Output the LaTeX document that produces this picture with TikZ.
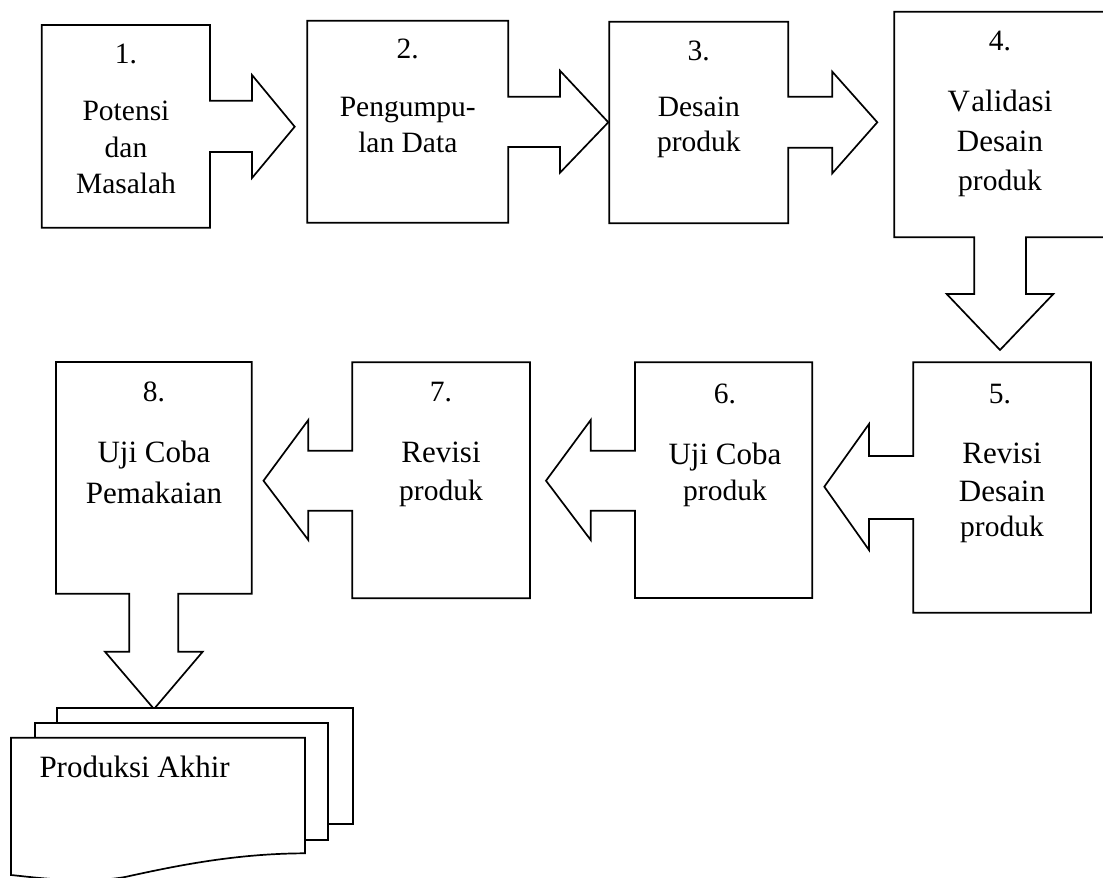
\documentclass[tikz,border=0pt]{standalone}
\usepackage{fontspec}
\setmainfont{Liberation Serif}
\begin{document}
\begin{tikzpicture}[x=1pt,y=-1pt,
  blk/.style={draw=black, line width=1.7pt, line join=miter, fill=white},
  lbl/.style={anchor=base, inner sep=0pt, font=\fontsize{29.5}{30}\selectfont},
  lblb/.style={anchor=base, inner sep=0pt, font=\fontsize{31}{32}\selectfont}]
\useasboundingbox (0,0) rectangle (1103,878);
\clip (0,0) rectangle (1103,878);

% Box 1 with right arrow
\draw[blk] (41.7,25) -- (210,25) -- (210,100.7) -- (252,100.7) -- (252,75) -- (294.7,126.7)
  -- (252,178) -- (252,152) -- (210,152) -- (210,227.7) -- (41.7,227.7) -- cycle;
% Box 2
\draw[blk] (307.3,20.7) -- (508.3,20.7) -- (508.3,96.7) -- (560,96.7) -- (560,70.7) -- (608.3,122.3)
  -- (560,172.7) -- (560,147) -- (508.3,147) -- (508.3,222.7) -- (307.3,222.7) -- cycle;
% Box 3
\draw[blk] (609.3,21.7) -- (788.3,21.7) -- (788.3,96.7) -- (832.3,96.7) -- (832.3,71.7) -- (877.3,122.3)
  -- (832.3,173.3) -- (832.3,147.7) -- (788.3,147.7) -- (788.3,223.3) -- (609.3,223.3) -- cycle;
% Box 4 with down arrow
\draw[blk] (894.3,11.7) -- (1108,11.7) -- (1108,237.3) -- (1026,237.3) -- (1026,294) -- (1053.3,294)
  -- (1000,350) -- (946.7,294) -- (974.3,294) -- (974.3,237.3) -- (894.3,237.3) -- cycle;
% Box 5 with left arrow
\draw[blk] (913.3,362.3) -- (1091,362.3) -- (1091,612.7) -- (913.3,612.7) -- (913.3,519) -- (869,519)
  -- (869,550) -- (824.3,486.7) -- (869,424) -- (869,456) -- (913.3,456) -- cycle;
% Box 6
\draw[blk] (635,362.3) -- (812.3,362.3) -- (812.3,598) -- (635,598) -- (635,510.7) -- (590.7,510.7)
  -- (590.7,540) -- (546,480.7) -- (590.7,420) -- (590.7,450.7) -- (635,450.7) -- cycle;
% Box 7
\draw[blk] (352.3,362.3) -- (530,362.3) -- (530,598.3) -- (352.3,598.3) -- (352.3,510.7) -- (308.3,510.7)
  -- (308.3,540) -- (263.5,480.7) -- (308.3,420) -- (308.3,450.7) -- (352.3,450.7) -- cycle;
% Box 8 with down arrow
\draw[blk] (56,362) -- (251.7,362) -- (251.7,593.7) -- (178.3,593.7) -- (178.3,651.7) -- (202.7,651.7)
  -- (154,709) -- (105,651.7) -- (129.3,651.7) -- (129.3,593.7) -- (56,593.7) -- cycle;

% Documents (Produksi Akhir)
\draw[blk] (57.3,708.3) rectangle (353.3,824);
\draw[blk] (35,723.3) rectangle (328.3,840);
\draw[blk] (11,737.7) -- (305,737.7) -- (305,853.3)
  .. controls (235,853.5) and (175,866) .. (125,877)
  .. controls (85,884) and (40,878) .. (11,875) -- cycle;

% Texts
\node[lbl] (t1n) at (126,63) {1.};
\node[lbl] (t1a) at (126,120.7) {Potensi};
\node[lbl] (t1b) at (126,157) {dan};
\node[lbl] (t1c) at (126,193) {Masalah};

\node[lbl] (t2n) at (407.8,58) {2.};
\node[lbl] (t2a) at (407.8,116.7) {Pengumpu-};
\node[lbl] (t2b) at (407.8,152.7) {lan Data};

\node[lbl] (t3n) at (698.8,60) {3.};
\node[lbl] (t3a) at (698.8,116.7) {Desain};
\node[lbl] (t3b) at (698.8,151.7) {produk};

\node[lbl] (t4n) at (1000,50) {4.};
\node[lblb] (t4a) at (1000,111) {V\kern1.5pt alidasi};
\node[lblb] (t4b) at (1000,151.7) {Desain};
\node[lbl] (t4c) at (1000,190) {produk};

\node[lbl] (t5n) at (1000,403) {5.};
\node[lblb] (t5a) at (1002,463) {Revisi};
\node[lblb] (t5b) at (1002,501.7) {Desain};
\node[lbl] (t5c) at (1002,536.7) {produk};

\node[lbl] (t6n) at (725,403.3) {6.};
\node[lblb] (t6a) at (725,464) {Uji Coba};
\node[lbl] (t6b) at (725,500) {produk};

\node[lbl] (t7n) at (441,401.7) {7.};
\node[lblb] (t7a) at (441,462.7) {Revisi};
\node[lbl] (t7b) at (441,500) {produk};

\node[lbl] (t8n) at (154,401.7) {8.};
\node[lblb] (t8a) at (154,462.7) {Uji Coba};
\node[lblb] (t8b) at (154,503.3) {Pemakaian};

\node[lblb, anchor=base west] (tpa) at (39.3,777.7) {Produksi Akhir};
\end{tikzpicture}
\end{document}
